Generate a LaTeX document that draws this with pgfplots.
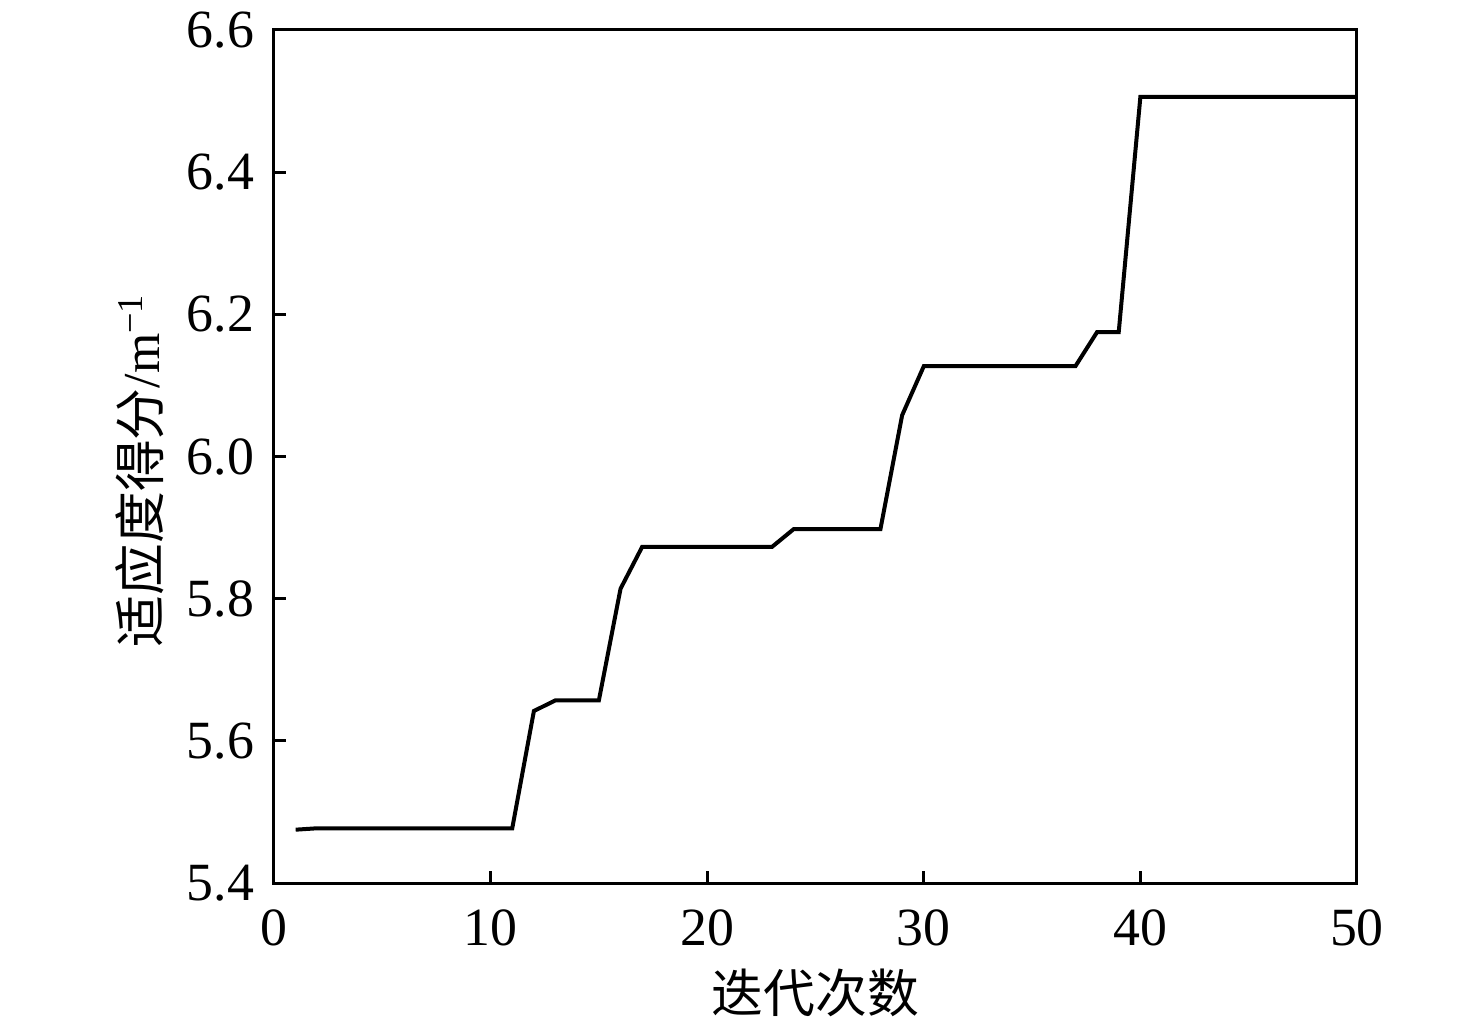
\documentclass[border=0pt]{standalone}
\usepackage{fontspec}
\setmainfont{Liberation Serif}
\newfontfamily\cjk{Noto Sans CJK SC}
\usepackage{pgfplots}
\pgfplotsset{compat=1.18}
\begin{document}
\begin{tikzpicture}
\useasboundingbox (-68.5bp,-35.5bp) rectangle (300.5bp,220.75bp);
\begin{axis}[
  at={(0,0)}, anchor=south west,
  scale only axis, width=270.75bp, height=213.25bp,
  xmin=0, xmax=50, ymin=5.4, ymax=6.6,
  xtick={0,10,20,30,40,50},
  ytick={5.4,5.6,5.8,6.0,6.2,6.4,6.6},
  tick align=inside,
  xtick pos=bottom, ytick pos=left,
  major tick length=3bp,
  axis line style={line width=0.75bp},
  every tick/.style={line width=0.75bp, black},
  /pgf/number format/assume math mode=true,
  yticklabel style={/pgf/number format/fixed, /pgf/number format/fixed zerofill, /pgf/number format/precision=1, font=\fontsize{13.5}{16}\selectfont, xshift=-1.5bp},
  xticklabel style={font=\fontsize{13.5}{16}\selectfont, yshift=-3.25bp},
  scaled y ticks=false,
  xlabel={\cjk 迭代次数},
  ylabel={{\cjk 适应度得分}/m\textsuperscript{−1}},
  xlabel style={font=\fontsize{13}{15}\selectfont, at={(axis description cs:0.5,0)}, anchor=center, yshift=-27.5bp},
  ylabel style={font=\fontsize{13}{15}\selectfont, at={(axis description cs:-0.1237,0.484)}, anchor=center},
]
\addplot[black, line width=1bp] coordinates {
(1,5.475) (2,5.477) (11,5.477) (12,5.642) (13,5.657) (15,5.657)
(16,5.814) (17,5.873) (23,5.873) (24,5.898) (28,5.898) (29,6.058)
(30,6.127) (37,6.127) (38,6.175) (39,6.175) (40,6.506) (50,6.506)
};
\end{axis}
\end{tikzpicture}
\end{document}
